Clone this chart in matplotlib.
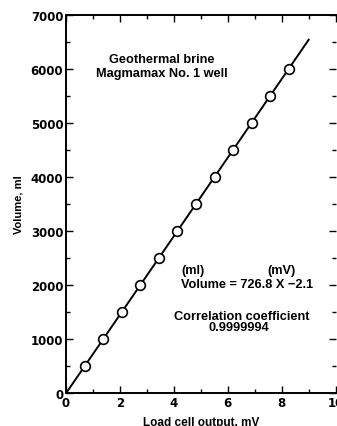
import matplotlib.pyplot as plt
from matplotlib.ticker import MultipleLocator

# 読み取った測定点
load_mv = [0.69, 1.38, 2.07, 2.75, 3.44, 4.13, 4.82, 5.51, 6.20, 6.88, 7.57, 8.26]
volume_ml = [500, 1000, 1500, 2000, 2500, 3000, 3500, 4000, 4500, 5000, 5500, 6000]

# 回帰直線の端点
fit_x = [0.0, 9.0]
fit_y = [726.8 * x - 2.1 for x in fit_x]

plt.rcParams["font.family"] = ["DejaVu Sans"]
plt.rcParams["font.weight"] = "bold"
txt_font = ["Liberation Sans", "DejaVu Sans"]

fig = plt.figure(figsize=(3.37, 4.27), dpi=100)
ax = fig.add_axes([0.196, 0.077, 0.80, 0.886])

ax.plot(fit_x, fit_y, color="black", linewidth=1.4, zorder=2)
ax.plot(load_mv, volume_ml, "o", markersize=7, markerfacecolor="white",
        markeredgecolor="black", markeredgewidth=1.2, zorder=3)

ax.set_xlim(0, 10)
ax.set_ylim(0, 7000)
ax.xaxis.set_major_locator(MultipleLocator(2))
ax.xaxis.set_minor_locator(MultipleLocator(1))
ax.yaxis.set_major_locator(MultipleLocator(1000))
ax.yaxis.set_minor_locator(MultipleLocator(500))
ax.tick_params(which="both", direction="in", top=True, right=True,
               labelsize=8.5, width=1, pad=2)
ax.tick_params(which="major", length=5)
ax.tick_params(which="minor", length=3)
ax.spines["right"].set_visible(False)
for s in ["left", "bottom", "top"]:
    ax.spines[s].set_linewidth(1.4)

ax.set_xlabel("Load cell output, mV", family=txt_font, fontsize=8.5,
              fontweight="bold", labelpad=5)
ax.set_ylabel("Volume, ml", family=txt_font, fontsize=8, fontweight="bold", labelpad=5)

kw = dict(ha="center", va="center", fontsize=9.2, family=txt_font, fontweight="bold")
ax.text(3.55, 6055, "Geothermal brine\nMagmamax No. 1 well", linespacing=1.2, **kw)
ax.text(4.7, 2280, "(ml)", **kw)
ax.text(8.0, 2280, "(mV)", **kw)
ax.text(6.7, 2020, "Volume = 726.8 X \u22122.1", **kw)
ax.text(6.5, 1430, "Correlation coefficient", **kw)
ax.text(6.4, 1220, "0.9999994", **kw)

fig.savefig("out.png", dpi=100)
